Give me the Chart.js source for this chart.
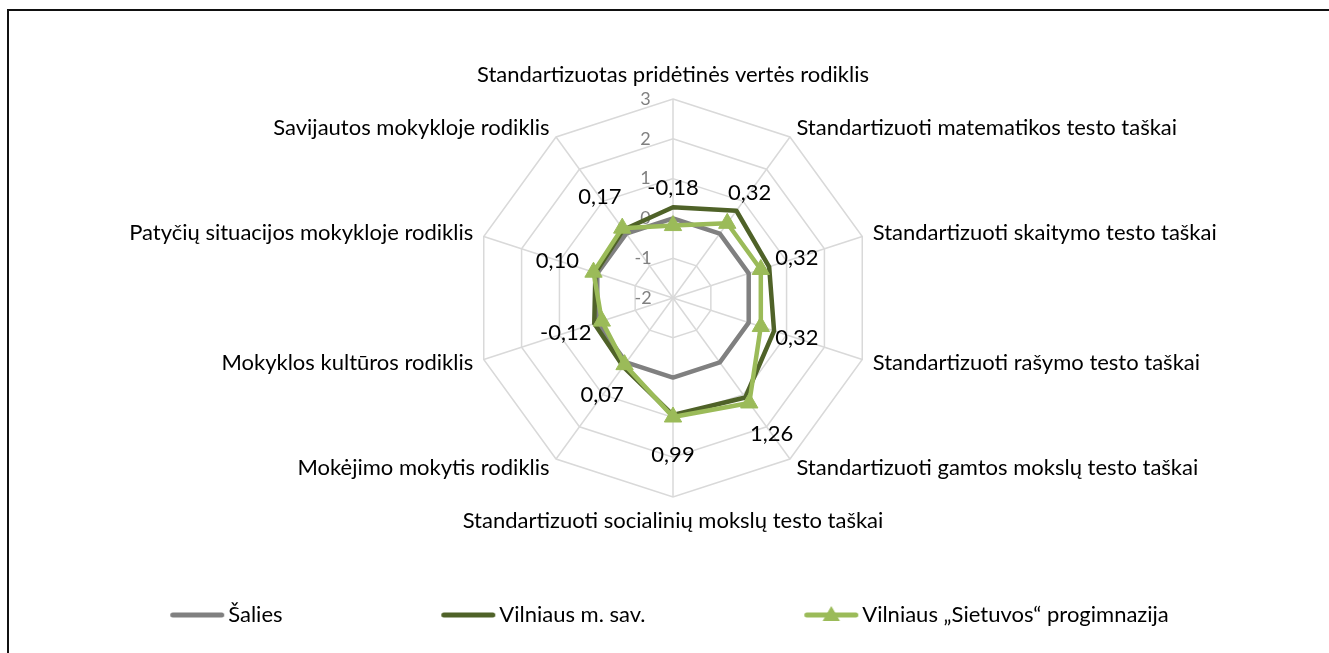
<!DOCTYPE html>
<html><head><meta charset="utf-8">
<script src="https://cdn.jsdelivr.net/npm/chart.js@4.4.1/dist/chart.umd.min.js"></script>
<style>
html,body{margin:0;padding:0;background:#fff;}
#wrap{position:relative;width:1329px;height:653px;overflow:hidden;background:#fff;}
#frame{position:absolute;left:7px;top:9px;width:1400px;height:700px;border-left:2px solid #111;border-top:2px solid #111;}
canvas{position:absolute;left:0;top:0;}
</style></head><body>
<div id="wrap"><div id="frame"></div><canvas id="c" width="1329" height="653"></canvas></div>
<script>
const categories = [
  'Standartizuotas pridėtinės vertės rodiklis',
  'Standartizuoti matematikos testo taškai',
  'Standartizuoti skaitymo testo taškai',
  'Standartizuoti rašymo testo taškai',
  'Standartizuoti gamtos mokslų testo taškai',
  'Standartizuoti socialinių mokslų testo taškai',
  'Mokėjimo mokytis rodiklis',
  'Mokyklos kultūros rodiklis',
  'Patyčių situacijos mokykloje rodiklis',
  'Savijautos mokykloje rodiklis'
];
const seriesNames = ['Šalies', 'Vilniaus m. sav.', 'Vilniaus „Sietuvos“ progimnazija'];
const salies   = [0, 0, 0, 0, 0, 0, 0, 0, 0, 0];
const vilnius  = [0.28, 0.71, 0.54, 0.67, 1.09, 0.94, 0.13, 0.08, 0.05, 0.12];
const sietuvos = [-0.18, 0.32, 0.32, 0.32, 1.26, 0.99, 0.07, -0.12, 0.10, 0.17];
const tickMin = -2, tickMax = 3, tickStep = 1;

const FONT = 'Lato';
const LABEL_SIZE = 22;
const TICK_SIZE = 18;
const colors = ['#808080', '#4f6228', '#9bbb59'];

const mctx = document.createElement('canvas').getContext('2d');
function padRight(txt, font, extra) {
  mctx.font = font;
  const base = mctx.measureText(txt).width;
  let s = txt;
  let guard = 0;
  while (mctx.measureText(s).width < base + extra && guard++ < 300) s += ' ';
  return s;
}
function tickText(v) {
  const t = String(v);
  const f = TICK_SIZE + 'px ' + FONT;
  mctx.font = f;
  const d = mctx.measureText(t).width;
  return padRight(t, f, 42 + d);
}
function fmt(v) { return v.toFixed(2).replace('.', ','); }

function makeIcon(color, triangle) {
  const c = document.createElement('canvas');
  c.width = 58; c.height = 22;
  const g = c.getContext('2d');
  g.strokeStyle = color; g.lineWidth = 5; g.lineCap = 'round';
  g.beginPath(); g.moveTo(4.5, 11); g.lineTo(53.5, 11); g.stroke();
  if (triangle) {
    g.fillStyle = color;
    const r = 10, cx = 29, cy = 12;
    g.beginPath();
    for (let k = 0; k < 3; k++) {
      const a = -Math.PI / 2 + k * 2 * Math.PI / 3;
      const px = cx + Math.cos(a) * r, py = cy + Math.sin(a) * r;
      k ? g.lineTo(px, py) : g.moveTo(px, py);
    }
    g.closePath(); g.fill();
  }
  return c;
}
const legendIcons = [makeIcon(colors[0], false), makeIcon(colors[1], false), makeIcon(colors[2], true)];
const legendFont = LABEL_SIZE + 'px ' + FONT;
const legendTexts = [
  padRight(seriesNames[0], legendFont, 92),
  padRight(seriesNames[1], legendFont, 92),
  seriesNames[2]
];

const dataLabelPlugin = {
  id: 'dataLabels',
  afterDatasetsDraw(chart) {
    const meta = chart.getDatasetMeta(2);
    const scale = chart.scales.r;
    const ctx = chart.ctx;
    ctx.save();
    ctx.font = LABEL_SIZE + 'px ' + FONT;
    ctx.fillStyle = '#000';
    ctx.textAlign = 'center';
    ctx.textBaseline = 'middle';
    meta.data.forEach((el, i) => {
      const a = scale.getIndexAngle(i) - Math.PI / 2;
      ctx.fillText(fmt(sietuvos[i]), el.x + Math.cos(a) * 38, el.y + Math.sin(a) * 38);
    });
    ctx.restore();
  }
};

new Chart(document.getElementById('c'), {
  type: 'radar',
  data: {
    labels: categories,
    datasets: [
      { label: seriesNames[0], data: salies, borderColor: colors[0], backgroundColor: colors[0],
        borderWidth: 4.5, pointRadius: 0, fill: false, order: 2, borderJoinStyle: 'round' },
      { label: seriesNames[1], data: vilnius, borderColor: colors[1], backgroundColor: colors[1],
        borderWidth: 4.5, pointRadius: 0, fill: false, order: 1, borderJoinStyle: 'round' },
      { label: seriesNames[2], data: sietuvos, borderColor: colors[2], backgroundColor: colors[2],
        borderWidth: 4.5, pointRadius: 10, pointStyle: 'triangle', pointBorderWidth: 1,
        pointBackgroundColor: colors[2], pointBorderColor: colors[2], fill: false, order: 0, borderJoinStyle: 'round' }
    ]
  },
  options: {
    responsive: false,
    animation: false,
    devicePixelRatio: 1,
    layout: { padding: { left: 17, right: 0, top: 62, bottom: 17 } },
    elements: { line: { tension: 0 } },
    scales: {
      r: {
        min: tickMin, max: tickMax,
        ticks: {
          stepSize: tickStep,
          color: '#808080',
          font: { family: FONT, size: TICK_SIZE },
          showLabelBackdrop: false,
          backdropPadding: 0,
          callback: (v) => tickText(v)
        },
        grid: { color: '#d9d9d9', lineWidth: 1.5, circular: false },
        angleLines: { color: '#d9d9d9', lineWidth: 1.5 },
        pointLabels: {
          color: '#000',
          padding: 2,
          font: (ctx) => ({ family: FONT, size: LABEL_SIZE,
            lineHeight: (ctx.index === 0 || ctx.index === 5) ? '26px' : '1px' })
        }
      }
    },
    plugins: {
      tooltip: { enabled: false },
      legend: {
        position: 'bottom',
        labels: {
          usePointStyle: true,
          pointStyleWidth: 40,
          padding: 70,
          color: '#000',
          font: { family: FONT, size: LABEL_SIZE },
          generateLabels(chart) {
            const items = Chart.defaults.plugins.legend.labels.generateLabels(chart);
            items.forEach((it, i) => { it.pointStyle = legendIcons[i]; it.text = legendTexts[i]; });
            return items;
          }
        }
      }
    }
  },
  plugins: [dataLabelPlugin]
});
</script>
</body></html>
